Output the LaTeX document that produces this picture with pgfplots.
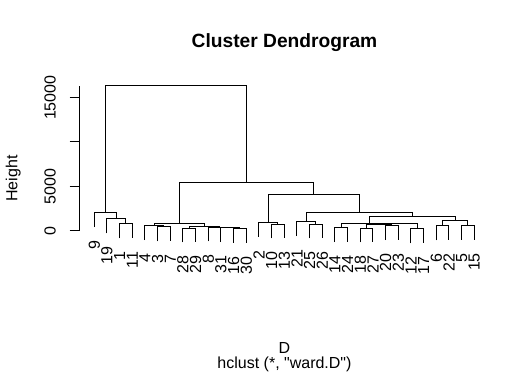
\documentclass[border=0pt]{standalone}
\usepackage{fontspec}
\setmainfont{Liberation Sans}
\newfontfamily\plainfont{Liberation Sans}[Ligatures=ResetAll]
\usepackage{pgfplots}
\usepackage{pgfplotstable}
\pgfplotsset{compat=1.18}
\pgfplotstableread{
pos bottom lab
1 410 9
2 -300 19
3 -860 1
4 -860 11
5 -1060 4
6 -1200 3
7 -1200 7
8 -1320 28
9 -1320 29
10 -1220 8
11 -1290 31
12 -1370 16
13 -1370 30
14 -690 2
15 -880 10
16 -880 13
17 -610 21
18 -870 25
19 -870 26
20 -1280 14
21 -1280 24
22 -1330 18
23 -1330 27
24 -1060 20
25 -1060 23
26 -1420 12
27 -1420 17
28 -1090 6
29 -1090 22
30 -1010 5
31 -1010 15
}\leaves
\begin{document}
\begin{tikzpicture}[x=0.75pt,y=0.75pt]
\path[use as bounding box] (0,0) rectangle (532,377);
\begin{axis}[
  at={(59.325pt,96.45pt)}, anchor=south west,
  scale only axis, width=307.8pt, height=122.025pt,
  xmin=-0.2, xmax=32.2, ymin=-2000, ymax=16350,
  clip=false,
  hide x axis,
  axis y line*=left,
  y axis line style={draw=none},
  ytick={0,5000,10000,15000},
  yticklabels={0,5000,,15000},
  scaled y ticks=false,
  tick align=outside,
  major tick length=7.2pt,
  ytick style={black, line width=0.75pt},
  yticklabel style={rotate=90, anchor=south, inner sep=0pt, font=\fontsize{12}{14}\selectfont, yshift=10pt},
  den/.style={black, line width=0.75pt, mark=none},
]
\draw[black, line width=0.75pt] (axis cs:-0.2,0) -- (axis cs:-0.2,16350);
% left cluster
\addplot[den] coordinates {(3,-860)(3,760)(4,760)(4,-860)};
\addplot[den] coordinates {(2,-300)(2,1320)(3.5,1320)(3.5,760)};
\addplot[den] coordinates {(1,410)(1,2030)(2.75,2030)(2.75,1320)};
% middle cluster
\addplot[den] coordinates {(6,-1200)(6,420)(7,420)(7,-1200)};
\addplot[den] coordinates {(5,-1060)(5,560)(6.5,560)(6.5,420)};
\addplot[den] coordinates {(12,-1370)(12,250)(13,250)(13,-1370)};
\addplot[den] coordinates {(11,-1290)(11,330)(12.5,330)(12.5,250)};
\addplot[den] coordinates {(10,-1220)(10,400)(11.75,400)(11.75,330)};
\addplot[den] coordinates {(8,-1320)(8,300)(9,300)(9,-1320)};
\addplot[den] coordinates {(8.5,300)(8.5,470)(10.875,470)(10.875,400)};
\addplot[den] coordinates {(5.75,560)(5.75,850)(9.6875,850)(9.6875,470)};
% right cluster
\addplot[den] coordinates {(15,-880)(15,740)(16,740)(16,-880)};
\addplot[den] coordinates {(14,-690)(14,930)(15.5,930)(15.5,740)};
\addplot[den] coordinates {(18,-870)(18,750)(19,750)(19,-870)};
\addplot[den] coordinates {(17,-610)(17,1010)(18.5,1010)(18.5,750)};
\addplot[den] coordinates {(20,-1280)(20,340)(21,340)(21,-1280)};
\addplot[den] coordinates {(22,-1330)(22,290)(23,290)(23,-1330)};
\addplot[den] coordinates {(24,-1060)(24,560)(25,560)(25,-1060)};
\addplot[den] coordinates {(22.5,290)(22.5,700)(24.5,700)(24.5,560)};
\addplot[den] coordinates {(26,-1420)(26,200)(27,200)(27,-1420)};
\addplot[den] coordinates {(23.5,700)(23.5,780)(26.5,780)(26.5,200)};
\addplot[den] coordinates {(20.5,340)(20.5,830)(25,830)(25,780)};
\addplot[den] coordinates {(28,-1090)(28,530)(29,530)(29,-1090)};
\addplot[den] coordinates {(30,-1010)(30,610)(31,610)(31,-1010)};
\addplot[den] coordinates {(28.5,530)(28.5,1130)(30.5,1130)(30.5,610)};
\addplot[den] coordinates {(22.75,830)(22.75,1580)(29.5,1580)(29.5,1130)};
\addplot[den] coordinates {(17.75,1010)(17.75,2075)(26.125,2075)(26.125,1580)};
\addplot[den] coordinates {(14.75,930)(14.75,4030)(21.9375,4030)(21.9375,2075)};
\addplot[den] coordinates {(7.71875,850)(7.71875,5430)(18.34375,5430)(18.34375,4030)};
\addplot[den] coordinates {(1.875,2030)(1.875,16350)(13.03125,16350)(13.03125,5430)};
% leaf labels
\addplot[draw=none, mark=none, nodes near coords, point meta=explicit symbolic,
  every node near coord/.style={rotate=90, anchor=east, inner sep=0pt, black, font=\fontsize{12}{14}\selectfont}]
  table[x=pos, y expr=\thisrow{bottom}-1500, meta=lab] {\leaves};
\end{axis}
\node[anchor=base, font=\fontsize{14.4}{17}\selectfont\bfseries] at (284.5,329) {Cluster Dendrogram};
\node[anchor=base, font=\fontsize{12}{14}\selectfont] at (284.5,23.5) {D};
\node[anchor=base, font=\plainfont\fontsize{12}{14}\selectfont] at (284.5,8.5) {hclust (*, "ward.D")};
\node[anchor=base, rotate=90, font=\fontsize{12}{14}\selectfont] at (17.3,198.5) {Height};
\end{tikzpicture}
\end{document}
